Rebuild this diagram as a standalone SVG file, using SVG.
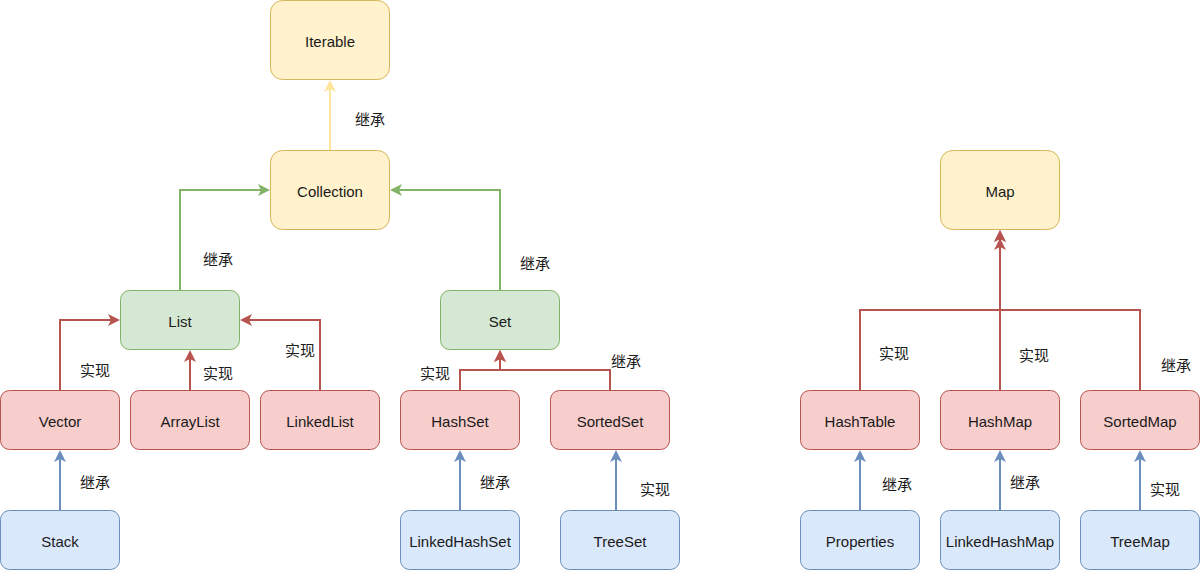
<svg xmlns="http://www.w3.org/2000/svg" width="1202" height="571" viewBox="0 0 1202 571">
<style>
.n rect{stroke-width:1}
.y rect{fill:#fff2cc;stroke:#d6b656}
.g rect{fill:#d5e8d4;stroke:#82b366}
.r rect{fill:#f8cecc;stroke:#b85450}
.b rect{fill:#dae8fc;stroke:#6c8ebf}
.n text{font-family:"Liberation Sans",Arial,sans-serif;font-size:15px;fill:#1a1a1a;text-anchor:middle;dominant-baseline:central}
.e path{fill:none;stroke-width:2}
.lbl{font-family:"Noto Sans CJK SC","Liberation Sans",sans-serif;font-size:15px;fill:#1a1a1a;text-anchor:middle;dominant-baseline:central}
.ey{stroke:#ffe599;marker-end:url(#ay)}
.eg{stroke:#82b366;marker-end:url(#ag)}
.er{stroke:#b85450;marker-end:url(#ar)}
.eb{stroke:#6c8ebf;marker-end:url(#ab)}
</style>
<defs>
<marker id="ay" viewBox="0 -6 12 12" refX="4" refY="0" markerWidth="12" markerHeight="12" markerUnits="userSpaceOnUse" orient="auto"><path d="M0,-6 L12,0 L0,6 L3,0 Z" fill="#ffe599"/></marker>
<marker id="ag" viewBox="0 -6 12 12" refX="4" refY="0" markerWidth="12" markerHeight="12" markerUnits="userSpaceOnUse" orient="auto"><path d="M0,-6 L12,0 L0,6 L3,0 Z" fill="#82b366"/></marker>
<marker id="ar" viewBox="0 -6 12 12" refX="4" refY="0" markerWidth="12" markerHeight="12" markerUnits="userSpaceOnUse" orient="auto"><path d="M0,-6 L12,0 L0,6 L3,0 Z" fill="#b85450"/></marker>
<marker id="ab" viewBox="0 -6 12 12" refX="4" refY="0" markerWidth="12" markerHeight="12" markerUnits="userSpaceOnUse" orient="auto"><path d="M0,-6 L12,0 L0,6 L3,0 Z" fill="#6c8ebf"/></marker>
</defs>
<g id="connectors" class="e">
<path class="ey" d="M330,150 L330,88"/>
<path class="eg" d="M180,290 L180,190 L262,190"/>
<path class="eg" d="M500,290 L500,190 L398,190"/>
<path class="er" d="M60,390 L60,320 L112,320"/>
<path class="er" d="M190,390 L190,358"/>
<path class="er" d="M320,390 L320,320 L248,320"/>
<path class="er" d="M460,390 L460,370 L500,370 L500,358"/>
<path class="er" d="M610,390 L610,370 L500,370 L500,358"/>
<path class="er" d="M860,390 L860,310 L1000,310 L1000,238"/>
<path class="er" d="M1000,390 L1000,246"/>
<path class="er" d="M1140,390 L1140,310 L1000,310 L1000,238"/>
<path class="eb" d="M60,510 L60,458"/>
<path class="eb" d="M460,510 L460,458"/>
<path class="eb" d="M616,510 L616,458"/>
<path class="eb" d="M860,510 L860,458"/>
<path class="eb" d="M1000,510 L1000,458"/>
<path class="eb" d="M1140,510 L1140,458"/>
<text class="lbl" x="370" y="118">继承</text>
<text class="lbl" x="218" y="258">继承</text>
<text class="lbl" x="535" y="262">继承</text>
<text class="lbl" x="95" y="369">实现</text>
<text class="lbl" x="218" y="372">实现</text>
<text class="lbl" x="300" y="349">实现</text>
<text class="lbl" x="435" y="372">实现</text>
<text class="lbl" x="626" y="360">继承</text>
<text class="lbl" x="894" y="352">实现</text>
<text class="lbl" x="1034" y="354">实现</text>
<text class="lbl" x="1176" y="364">继承</text>
<text class="lbl" x="95" y="481">继承</text>
<text class="lbl" x="495" y="481">继承</text>
<text class="lbl" x="655" y="488">实现</text>
<text class="lbl" x="897" y="483">继承</text>
<text class="lbl" x="1025" y="481">继承</text>
<text class="lbl" x="1165" y="488">实现</text>
</g>
<g id="iterable" class="n y"><rect x="270.5" y="0.5" width="119" height="79" rx="12"/><text x="330" y="41">Iterable</text></g>
<g id="collection" class="n y"><rect x="270.5" y="150.5" width="119" height="79" rx="12"/><text x="330" y="191">Collection</text></g>
<g id="map" class="n y"><rect x="940.5" y="150.5" width="119" height="79" rx="12"/><text x="1000" y="191">Map</text></g>
<g id="list" class="n g"><rect x="120.5" y="290.5" width="119" height="59" rx="9"/><text x="180" y="321">List</text></g>
<g id="set" class="n g"><rect x="440.5" y="290.5" width="119" height="59" rx="9"/><text x="500" y="321">Set</text></g>
<g id="vector" class="n r"><rect x="0.5" y="390.5" width="119" height="59" rx="9"/><text x="60" y="421">Vector</text></g>
<g id="arraylist" class="n r"><rect x="130.5" y="390.5" width="119" height="59" rx="9"/><text x="190" y="421">ArrayList</text></g>
<g id="linkedlist" class="n r"><rect x="260.5" y="390.5" width="119" height="59" rx="9"/><text x="320" y="421">LinkedList</text></g>
<g id="hashset" class="n r"><rect x="400.5" y="390.5" width="119" height="59" rx="9"/><text x="460" y="421">HashSet</text></g>
<g id="sortedset" class="n r"><rect x="550.5" y="390.5" width="119" height="59" rx="9"/><text x="610" y="421">SortedSet</text></g>
<g id="hashtable" class="n r"><rect x="800.5" y="390.5" width="119" height="59" rx="9"/><text x="860" y="421">HashTable</text></g>
<g id="hashmap" class="n r"><rect x="940.5" y="390.5" width="119" height="59" rx="9"/><text x="1000" y="421">HashMap</text></g>
<g id="sortedmap" class="n r"><rect x="1080.5" y="390.5" width="119" height="59" rx="9"/><text x="1140" y="421">SortedMap</text></g>
<g id="stack" class="n b"><rect x="0.5" y="510.5" width="119" height="59" rx="9"/><text x="60" y="541">Stack</text></g>
<g id="linkedhashset" class="n b"><rect x="400.5" y="510.5" width="119" height="59" rx="9"/><text x="460" y="541">LinkedHashSet</text></g>
<g id="treeset" class="n b"><rect x="560.5" y="510.5" width="119" height="59" rx="9"/><text x="620" y="541">TreeSet</text></g>
<g id="properties" class="n b"><rect x="800.5" y="510.5" width="119" height="59" rx="9"/><text x="860" y="541">Properties</text></g>
<g id="linkedhashmap" class="n b"><rect x="940.5" y="510.5" width="119" height="59" rx="9"/><text x="1000" y="541">LinkedHashMap</text></g>
<g id="treemap" class="n b"><rect x="1080.5" y="510.5" width="119" height="59" rx="9"/><text x="1140" y="541">TreeMap</text></g>
</svg>
